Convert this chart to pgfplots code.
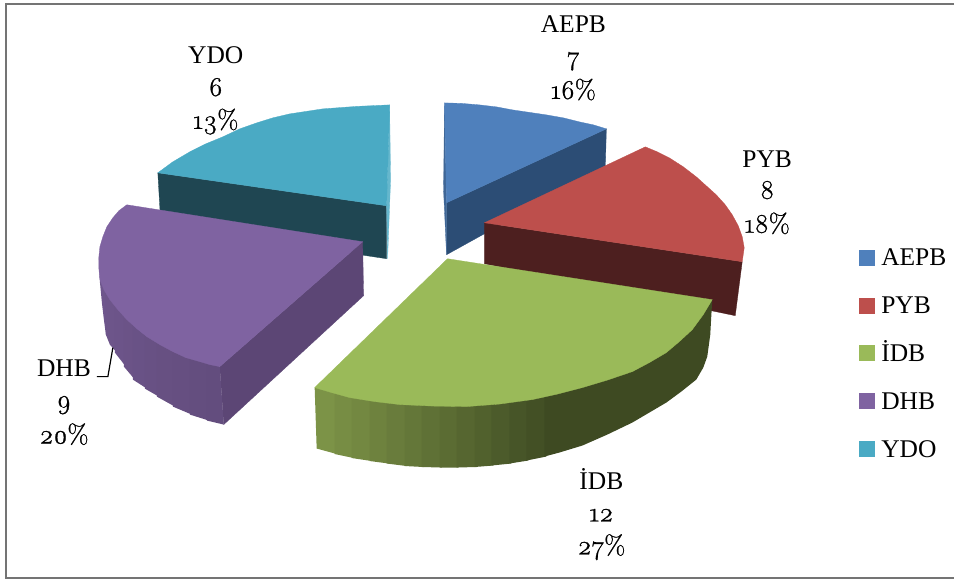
\documentclass[border=0pt]{standalone}
\usepackage{fontspec}
\setmainfont{Liberation Serif}
\newfontfamily\osf[Numbers=OldStyle,RawFeature={embolden=0.9},Scale=1.06]{Latin Modern Roman}
\usepackage{pgfplots}
\pgfplotsset{compat=1.18}
\definecolor{cB}{HTML}{4F80BC}
\definecolor{cBs}{HTML}{2C4D75}
\definecolor{cR}{HTML}{BD4F4C}
\definecolor{cRs}{HTML}{4D1F1F}
\definecolor{cG}{HTML}{9ABA59}
\definecolor{cP}{HTML}{7F63A1}
\definecolor{cPs}{HTML}{5C4675}
\definecolor{cT}{HTML}{4AAAC4}
\definecolor{cTs}{HTML}{1F4652}
\definecolor{cFrame}{HTML}{747474}
\definecolor{g1}{HTML}{7C9347}
\definecolor{g8}{HTML}{3E4A22}
\pgfplotsset{pf/.style={draw=#1,fill=#1,line width=0.3pt,forget plot},
  st/.style={draw=none,fill=#1,forget plot}}
\newcommand{\lbl}[3]{\node[font=\fontsize{25.5}{25.5}\selectfont,anchor=base,inner sep=0pt] at (axis cs:#1,#2) {#3};}
\newcommand{\leg}[2]{\node[font=\fontsize{25.5}{25.5}\selectfont,anchor=base west,inner sep=0pt] at (axis cs:882,#1) {#2};}
\begin{document}
\begin{tikzpicture}
\begin{axis}[scale only axis,width=955pt,height=580pt,xmin=0,xmax=955,ymin=0,ymax=580,y dir=reverse,hide axis,clip=false]
\path (axis cs:0,0) rectangle (axis cs:955,580);
% frame
\addplot[forget plot,draw=cFrame,line width=2pt] coordinates {(955,4)(6,4)(6,579)(955,579)};
% YDO
\addplot[pf=cTs] coordinates {(158,173)(387,206)(387,259)(161,225)} --cycle;
\addplot[pf=cT!85!white] coordinates {(390,105)(391,180)(388,259)(387,206)} --cycle;
\addplot[pf=cT] coordinates {(387,206)(390,105)(357,106.5)(323,109)(290,114)(273,118)(257,123)(240,129)(223,137)(206,144)(190,152)(173,162)(158,173)} --cycle;
% AEPB
\addplot[pf=cBs] coordinates {(447,203)(607,129)(606,167)(447,255)} --cycle;
\addplot[pf=cB!80!black] coordinates {(445,103)(447,203)(447,255)(444,190)} --cycle;
\addplot[pf=cB] coordinates {(447,203)(445,103)(462,103.5)(480,105)(497,107)(513,110)(530,112.5)(547,115)(564,118)(580,122)(594,125)(607,129)} --cycle;
% PYB
\addplot[pf=cRs] coordinates {(485,223)(743,262)(736,316)(485,264)} --cycle;
\addplot[pf=cR] coordinates {(485,223)(646,147)(658,152)(670,158)(684,167)(697,177)(707,186)(717,195)(726,205)(733,215)(739,226)(743,237)(745,248)(743,262)} --cycle;
% DHB
\addplot[pf=cPs] coordinates {(363,242)(364,296)(224,425)(220,367)} --cycle;
\addplot[st={cP!87!black}] coordinates {(99,258)(100,282)(102,303)(104,320)(106,335)(108,337)(108,290)} --cycle;
\addplot[st={cP!86!black}] coordinates {(106,290)(117,304)(117,353)(110,345)(106,335)} --cycle;
\addplot[st={cP!85!black}] coordinates {(115,304)(126,314)(126,367)(115,353)} --cycle;
\addplot[st={cP!84!black}] coordinates {(124,314)(135,323)(135,380)(124,367)} --cycle;
\addplot[st={cP!83!black}] coordinates {(133,323)(147,332)(147,389)(133,380)} --cycle;
\addplot[st={cP!82!black}] coordinates {(145,332)(159,340)(159,397)(145,389)} --cycle;
\addplot[st={cP!81!black}] coordinates {(157,340)(175,349)(175,407)(157,397)} --cycle;
\addplot[st={cP!80!black}] coordinates {(173,349)(192,356)(192,415)(173,407)} --cycle;
\addplot[st={cP!79!black}] coordinates {(190,356)(209,361)(209,421)(190,415)} --cycle;
\addplot[st={cP!78!black}] coordinates {(207,361)(220,367)(224,425)(207,421)} --cycle;
\addplot[pf=cP] coordinates {(363,242)(127,205)(119,211)(113,218)(107,227)(103,237)(100,247)(99,257)(99,269)(100,280)(104,290)(110,300)(118,310)(127,320)(137,329)(147,337)(160,345)(173,352)(186,358)(200,362)(210,365)(220,367)} --cycle;
% IDB side strips
\addplot[st=g1!100!g8] coordinates {(315,388)(337,390)(337,454.5)(317,449)} --cycle;
\addplot[st=g1!92!g8] coordinates {(335,390)(354,395)(354,458.5)(335,454.5)} --cycle;
\addplot[st=g1!85!g8] coordinates {(352,395)(372,398)(372,461.5)(352,458.5)} --cycle;
\addplot[st=g1!77!g8] coordinates {(370,398)(389,400)(389,464)(370,461.5)} --cycle;
\addplot[st=g1!69!g8] coordinates {(387,400)(407,402)(407,466.5)(387,464)} --cycle;
\addplot[st=g1!62!g8] coordinates {(405,402)(424,403)(424,467.5)(405,466.5)} --cycle;
\addplot[st=g1!54!g8] coordinates {(422,403)(442,403.5)(442,468)(422,467.5)} --cycle;
\addplot[st=g1!46!g8] coordinates {(440,403.5)(459,404)(459,468)(440,468)} --cycle;
\addplot[st=g1!38!g8] coordinates {(457,404)(477,403)(477,467.5)(457,468)} --cycle;
\addplot[st=g1!31!g8] coordinates {(475,403)(494,401.5)(494,466)(475,467.5)} --cycle;
\addplot[st=g1!23!g8] coordinates {(492,401.5)(512,399.5)(512,464)(492,466)} --cycle;
\addplot[st=g1!15!g8] coordinates {(510,399.5)(529,397)(529,461)(510,464)} --cycle;
\addplot[st=g1!8!g8] coordinates {(527,397)(547,394)(547,457)(527,461)} --cycle;
\addplot[st=g8] coordinates {(545,394)(583,385)(633,369)(667,350)(693,327)(713,300)(712,317)(711,335)(708,357)(704,368)(697,380)(682,392)(667,403)(650,413)(633,423)(608,435)(583,446)(560,453)(545,457)} --cycle;
\addplot[pf=cG] coordinates {(448,259)(713,300)(704,315)(693,330)(680,342)(667,353)(650,363)(633,372)(608,380.5)(583,388)(558,394.5)(533,400)(500,404.5)(467,407)(433,406.5)(400,405)(375,402)(350,398)(332,393)(315,388)} --cycle;
% leader
\addplot[forget plot,draw=black,line width=1.2pt] coordinates {(97,377)(108,377)(113,348)};
% legend swatches
\addplot[pf=cB] coordinates {(860,250)(875,250)(875,265)(860,265)} --cycle;
\addplot[pf=cR] coordinates {(860,298)(875,298)(875,313)(860,313)} --cycle;
\addplot[pf=cG] coordinates {(860,346)(875,346)(875,361)(860,361)} --cycle;
\addplot[pf=cP] coordinates {(860,394)(875,394)(875,409)(860,409)} --cycle;
\addplot[pf=cT] coordinates {(860,442)(875,442)(875,457)(860,457)} --cycle;
% labels
\lbl{574}{33}{AEPB}\lbl{574}{65}{\osf 7}\lbl{574}{99}{\osf 16\%}
\lbl{768}{168}{PYB}\lbl{768}{199}{\osf 8}\lbl{768}{233}{\osf 18\%}
\lbl{216}{64}{YDO}\lbl{216}{96}{\osf 6}\lbl{216}{129}{\osf 13\%}
\lbl{64}{377}{DHB}\lbl{64}{409}{\osf 9}\lbl{64}{444}{\osf 20\%}
\lbl{602}{490}{İDB}\lbl{602}{522}{\osf 12}\lbl{602}{555}{\osf 27\%}
\leg{266}{AEPB}\leg{314}{PYB}\leg{362}{İDB}\leg{410}{DHB}\leg{458}{YDO}
\end{axis}
\end{tikzpicture}
\end{document}
